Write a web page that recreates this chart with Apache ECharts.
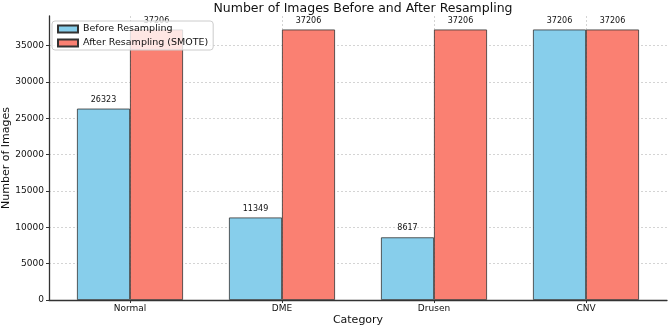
<!DOCTYPE html>
<html>
<head>
<meta charset="utf-8">
<script src="https://cdn.jsdelivr.net/npm/echarts@6/dist/echarts.min.js"></script>
<style>
  html, body { margin: 0; padding: 0; background: #fff; }
  #chart { width: 669px; height: 329px; }
</style>
</head>
<body>
<div id="chart"></div>
<script>
const categories = ['Normal', 'DME', 'Drusen', 'CNV']
const beforeResampling = [26323, 11349, 8617, 37206]
const afterResampling = [37206, 37206, 37206, 37206]
const yTickStep = 5000
// matplotlib-style 5% headroom above the tallest bar
const yMax = Math.max(...afterResampling, ...beforeResampling) * 1.05

const font = 'DejaVu Sans'
const dashed = { show: true, lineStyle: { color: '#c9c9c9', type: [2, 2], width: 0.8 } }

const chart = echarts.init(document.getElementById('chart'))
chart.setOption({
  animation: false,
  textStyle: { fontFamily: font },
  title: {
    text: 'Number of Images Before and After Resampling',
    left: 358,
    textAlign: 'center',
    top: -3,
    textStyle: { fontSize: 12.5, fontWeight: 'normal', color: '#111', fontFamily: font },
  },
  legend: {
    orient: 'vertical',
    left: 52,
    top: 21,
    z: 20,
    padding: [3, 5, 2, 5],
    itemGap: 4,
    itemWidth: 20,
    itemHeight: 7,
    icon: 'rect',
    backgroundColor: 'rgba(255,255,255,0.8)',
    borderColor: '#cccccc',
    borderWidth: 1,
    borderRadius: 3,
    textStyle: { fontSize: 9.5, color: '#111', lineHeight: 10, fontFamily: font },
    data: ['Before Resampling', 'After Resampling (SMOTE)'],
  },
  grid: [
    { left: 49, right: 2, top: 16, bottom: 29, outerBoundsMode: 'none', containLabel: false },
    { left: 130, width: 456, top: 16, bottom: 29, outerBoundsMode: 'none', containLabel: false },
  ],
  xAxis: [
    {
      type: 'value',
      gridIndex: 0,
      min: 0,
      max: 1,
      axisLine: { show: true, lineStyle: { color: '#333', width: 1.3 } },
      axisTick: { show: false },
      axisLabel: { show: false },
      splitLine: { show: false },
      name: 'Category',
      nameLocation: 'middle',
      nameGap: 15,
      nameMoveOverlap: false,
      nameTextStyle: { fontSize: 11, color: '#111', fontFamily: font },
    },
    {
      type: 'category',
      gridIndex: 1,
      data: categories,
      boundaryGap: false,
      axisLine: { show: false },
      axisTick: { show: true, inside: false, length: 3, lineStyle: { color: '#333' } },
      axisLabel: { fontSize: 9, color: '#111', margin: 4, fontFamily: font },
      splitLine: dashed,
    },
  ],
  yAxis: [
    {
      type: 'value',
      gridIndex: 0,
      min: 0,
      max: yMax,
      interval: yTickStep,
      axisLine: { show: true, lineStyle: { color: '#333', width: 1.3 } },
      axisTick: { show: true, length: 3, lineStyle: { color: '#333' } },
      axisLabel: { fontSize: 9, color: '#111', margin: 5, showMaxLabel: false, fontFamily: font, formatter: v => String(v) },
      splitLine: Object.assign({ showMaxLine: false }, dashed),
      name: 'Number of Images',
      nameLocation: 'middle',
      nameGap: 37,
      nameMoveOverlap: false,
      nameTextStyle: { fontSize: 11, color: '#111', fontFamily: font },
    },
    {
      type: 'value',
      gridIndex: 1,
      min: 0,
      max: yMax,
      show: false,
    },
  ],
  series: [
    {
      name: 'Before Resampling',
      type: 'bar',
      xAxisIndex: 1,
      yAxisIndex: 1,
      data: beforeResampling,
      barWidth: 53,
      barGap: '0%',
      clip: false,
      itemStyle: { color: '#87CEEB', borderColor: '#333', borderWidth: 0.8 },
      label: { show: true, position: 'top', distance: 5, fontSize: 8, color: '#111', fontFamily: font },
    },
    {
      name: 'After Resampling (SMOTE)',
      type: 'bar',
      xAxisIndex: 1,
      yAxisIndex: 1,
      data: afterResampling,
      barWidth: 53,
      barGap: '0%',
      clip: false,
      itemStyle: { color: '#FA8072', borderColor: '#333', borderWidth: 0.8 },
      label: { show: true, position: 'top', distance: 5, fontSize: 8, color: '#111', fontFamily: font },
    },
  ],
})
</script>
</body>
</html>
